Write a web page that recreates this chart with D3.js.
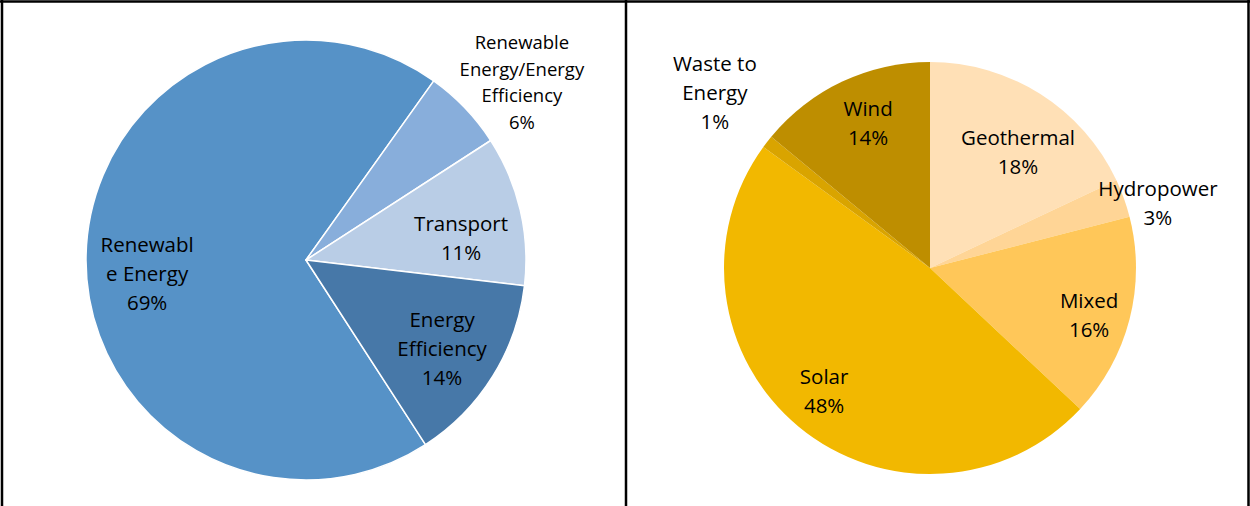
<!DOCTYPE html>
<html>
<head>
<meta charset="utf-8">
<script src="https://cdn.jsdelivr.net/npm/d3@7"></script>
<style>
  body { margin: 0; background: #fff; }
  svg { display: block; font-family: "Open Sans", Lato, sans-serif; }
</style>
</head>
<body>
<svg width="1250" height="506"></svg>
<script>
// left pie: funding by sector
const sectorNames = ["Renewable Energy", "Renewable Energy/Energy Efficiency", "Transport", "Energy Efficiency"];
const sectorShares = [69, 6, 11, 14];
const sectorLabelLines = [["Renewabl", "e Energy"], ["Renewable", "Energy/Energy", "Efficiency"], ["Transport"], ["Energy", "Efficiency"]];
const sectorColors = ["#5692C7", "#88AEDB", "#B9CDE6", "#4778A8"];

// right pie: renewable energy by technology
const techNames = ["Geothermal", "Hydropower", "Mixed", "Solar", "Waste to Energy", "Wind"];
const techShares = [18, 3, 16, 48, 1, 14];
const techLabelLines = [["Geothermal"], ["Hydropower"], ["Mixed"], ["Solar"], ["Waste to", "Energy"], ["Wind"]];
const techColors = ["#FFE0B6", "#FFD596", "#FFC759", "#F2B800", "#D9A400", "#BE8E00"];

const width = 1250;
const height = 506;
const svg = d3.select("svg");

// panel borders
const frame = svg.append("g").attr("stroke", "#000").attr("stroke-width", 2.5);
frame.append("line").attr("x1", 0).attr("x2", width).attr("y1", 1.5).attr("y2", 1.5);
frame.append("line").attr("x1", 2).attr("x2", 2).attr("y1", 0).attr("y2", height);
frame.append("line").attr("x1", 626).attr("x2", 626).attr("y1", 0).attr("y2", height);
frame.append("line").attr("x1", 1248.5).attr("x2", 1248.5).attr("y1", 0).attr("y2", height);

const deg = Math.PI / 180;

function drawPie(opts) {
  const data = opts.names.map((n, i) => ({
    name: n,
    value: opts.values[i],
    lines: opts.lines[i],
    color: opts.colors[i],
  }));
  const pie = d3
    .pie()
    .sort(null)
    .value((d) => d.value)
    .startAngle(opts.start * deg)
    .endAngle(opts.start * deg + 2 * Math.PI);
  const arc = d3.arc().innerRadius(0).outerRadius(opts.r);

  const g = svg.append("g").attr("transform", `translate(${opts.cx}, ${opts.cy})`);

  g.selectAll("path")
    .data(pie(data))
    .enter()
    .append("path")
    .attr("d", arc)
    .attr("fill", (d) => d.data.color)
    .attr("stroke", "#fff")
    .attr("stroke-width", opts.strokeWidth)
    .attr("stroke-linejoin", "round");

  // label anchor: [angle in degrees from 12 o'clock, fraction of radius]
  const labels = g
    .selectAll("text")
    .data(pie(data))
    .enter()
    .append("text")
    .attr("text-anchor", "middle")
    .attr("fill", "#000")
    .attr("font-size", (d) => (opts.small[d.data.name] ? 18.5 : 20.5))
    .attr("transform", (d) => {
      const p = opts.labelPos[d.data.name];
      const a = p ? p[0] * deg : (d.startAngle + d.endAngle) / 2;
      const f = p ? p[1] : 0.75;
      return `translate(${Math.sin(a) * f * opts.r}, ${-Math.cos(a) * f * opts.r})`;
    });

  labels.each(function (d) {
    const lh = opts.small[d.data.name] ? 26.5 : 29;
    const lines = d.data.lines.concat([d.data.value + "%"]);
    const t = d3.select(this);
    lines.forEach((s, i) => {
      t.append("tspan")
        .attr("x", 0)
        .attr("y", (i - (lines.length - 1) / 2) * lh)
        .attr("dy", "0.35em")
        .text(s);
    });
  });
}

drawPie({
  names: sectorNames,
  values: sectorShares,
  lines: sectorLabelLines,
  colors: sectorColors,
  cx: 306,
  cy: 260,
  r: 220,
  start: 147.1,
  strokeWidth: 1.5,
  small: { "Renewable Energy/Energy Efficiency": true },
  labelPos: {
    "Renewable Energy": [265, 0.725],
    "Renewable Energy/Energy Efficiency": [50.6, 1.27],
    Transport: [81.9, 0.712],
    "Energy Efficiency": [123.2, 0.739],
  },
});

drawPie({
  names: techNames,
  values: techShares,
  lines: techLabelLines,
  colors: techColors,
  cx: 930,
  cy: 268,
  r: 206,
  start: 0,
  strokeWidth: 0,
  small: {},
  labelPos: {
    Geothermal: [37.3, 0.705],
    Hydropower: [74.2, 1.15],
    Mixed: [106.6, 0.806],
    Solar: [220.6, 0.79],
    "Waste to Energy": [309.1, 1.346],
    Wind: [336.8, 0.763],
  },
});
</script>
</body>
</html>
